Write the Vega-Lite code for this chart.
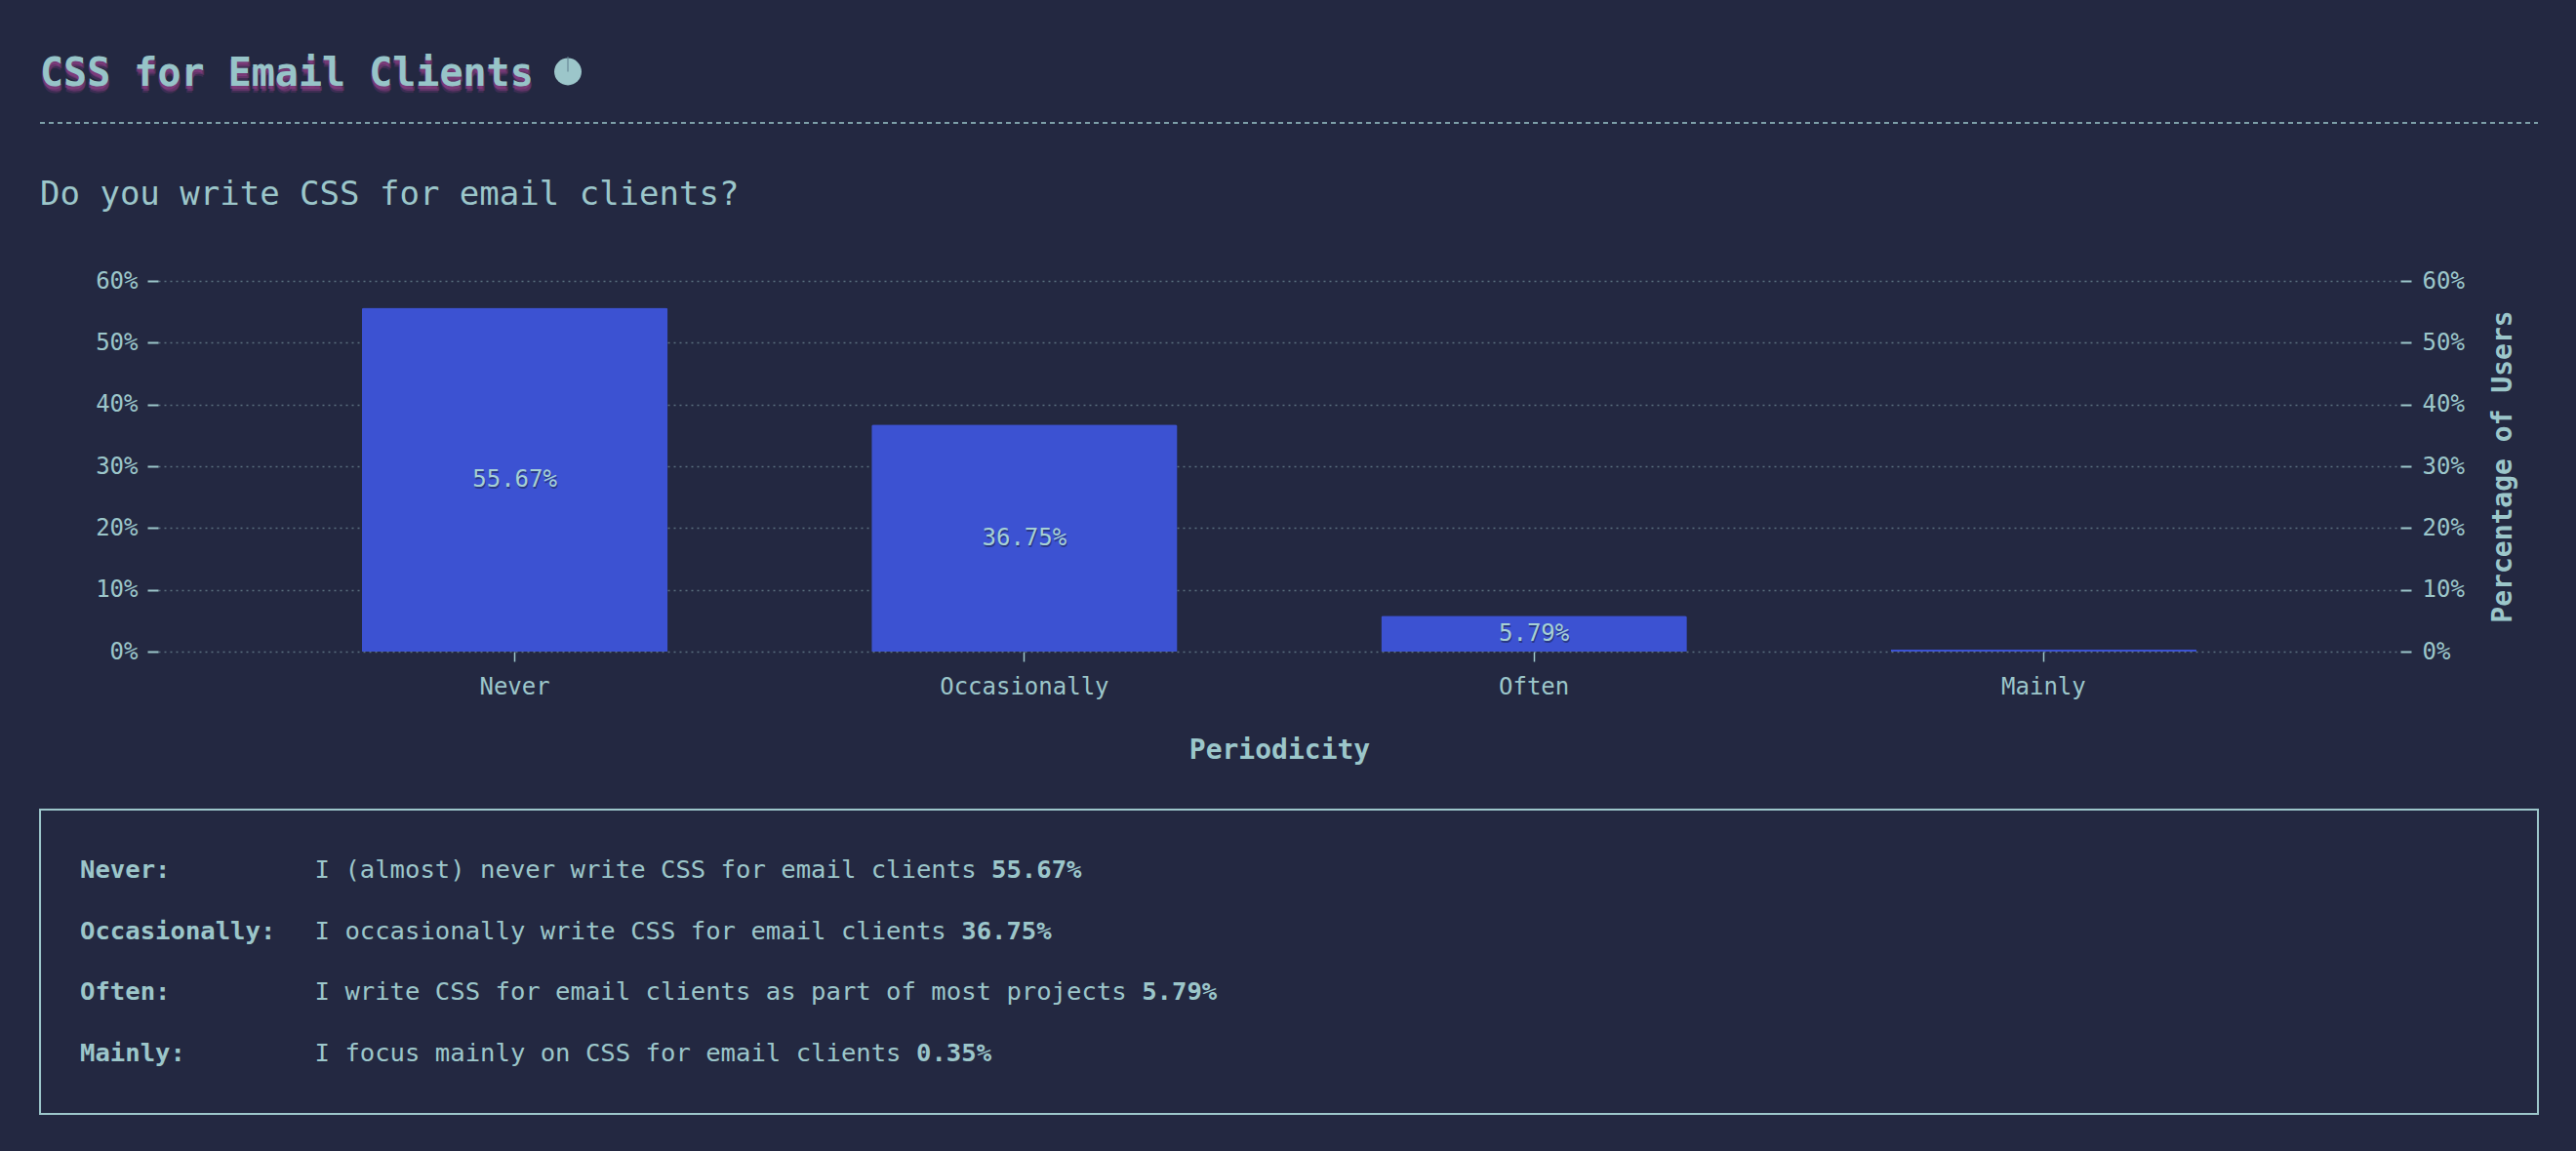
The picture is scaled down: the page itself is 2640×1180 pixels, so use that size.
{
  "$schema": "https://vega.github.io/schema/vega-lite/v6.json",
  "background": "#232841",
  "padding": {"left": 40, "top": 0, "right": 40, "bottom": 39},
  "config": {
    "font": "DejaVu Sans Mono",
    "view": {"stroke": null},
    "axis": {
      "labelFont": "DejaVu Sans Mono",
      "titleFont": "DejaVu Sans Mono",
      "labelColor": "#9cc6ca",
      "titleColor": "#9cc6ca",
      "tickColor": "#9cc6ca",
      "domain": false,
      "labelFontSize": 24,
      "titleFontSize": 28,
      "titleFontWeight": "bold"
    }
  },
  "datasets": {
    "main": [
      {"category": "Never", "value": 0.5567, "desc": "I (almost) never write CSS for email clients"},
      {"category": "Occasionally", "value": 0.3675, "desc": "I occasionally write CSS for email clients"},
      {"category": "Often", "value": 0.0579, "desc": "I write CSS for email clients as part of most projects"},
      {"category": "Mainly", "value": 0.0035, "desc": "I focus mainly on CSS for email clients"}
    ]
  },
  "spacing": 46,
  "vconcat": [
    {
      "width": 2298,
      "height": 137,
      "data": {"values": [{"t": "CSS for Email Clients"}]},
      "layer": [
        {
          "mark": {"type": "rule", "stroke": "#9cc6ca", "strokeWidth": 1.5, "strokeDash": [5, 4]},
          "encoding": {
            "x": {"datum": -121, "type": "quantitative", "scale": {"domain": [0, 2298], "nice": false, "zero": false}, "axis": null},
            "x2": {"datum": 2439},
            "y": {"datum": 126, "type": "quantitative", "scale": {"domain": [0, 137], "reverse": true, "nice": false, "zero": false}, "axis": null}
          }
        },
        {
          "mark": {"type": "text", "font": "DejaVu Sans Mono", "fontSize": 40, "fontWeight": "bold", "align": "left", "baseline": "alphabetic", "color": "#8e3f86", "opacity": 0.25, "dx": 0, "dy": 7},
          "encoding": {
            "x": {"datum": -121, "type": "quantitative"},
            "y": {"datum": 88, "type": "quantitative"},
            "text": {"field": "t"}
          }
        },
        {
          "mark": {"type": "text", "font": "DejaVu Sans Mono", "fontSize": 40, "fontWeight": "bold", "align": "left", "baseline": "alphabetic", "color": "#8e3f86", "opacity": 0.45, "dx": 1, "dy": 5},
          "encoding": {
            "x": {"datum": -121, "type": "quantitative"},
            "y": {"datum": 88, "type": "quantitative"},
            "text": {"field": "t"}
          }
        },
        {
          "mark": {"type": "text", "font": "DejaVu Sans Mono", "fontSize": 40, "fontWeight": "bold", "align": "left", "baseline": "alphabetic", "color": "#8e3f86", "opacity": 0.6, "dx": -1, "dy": 3},
          "encoding": {
            "x": {"datum": -121, "type": "quantitative"},
            "y": {"datum": 88, "type": "quantitative"},
            "text": {"field": "t"}
          }
        },
        {
          "mark": {"type": "text", "font": "DejaVu Sans Mono", "fontSize": 40, "fontWeight": "bold", "align": "left", "baseline": "alphabetic", "color": "#97c4c8"},
          "encoding": {
            "x": {"datum": -121, "type": "quantitative"},
            "y": {"datum": 88, "type": "quantitative"},
            "text": {"field": "t"}
          }
        },
        {
          "mark": {"type": "point", "shape": "circle", "filled": true, "size": 780, "color": "#9cc6ca", "opacity": 1},
          "encoding": {
            "x": {"datum": 420, "type": "quantitative"},
            "y": {"datum": 73.5, "type": "quantitative"}
          }
        },
        {
          "mark": {"type": "rule", "stroke": "#5f7f8e", "strokeWidth": 1},
          "encoding": {
            "x": {"datum": 420, "type": "quantitative"},
            "y": {"datum": 58, "type": "quantitative"},
            "y2": {"datum": 73.5}
          }
        }
      ]
    },
    {
      "width": 2298,
      "height": 380,
      "data": {"name": "main"},
      "title": {
        "text": "Do you write CSS for email clients?",
        "anchor": "start",
        "frame": "group",
        "dx": -121,
        "offset": 32,
        "baseline": "alphabetic",
        "font": "DejaVu Sans Mono",
        "fontSize": 34,
        "fontWeight": "normal",
        "color": "#9cc6ca"
      },
      "encoding": {
        "x": {
          "field": "category",
          "type": "nominal",
          "sort": null,
          "scale": {"paddingInner": 0.4, "paddingOuter": 0.4},
          "axis": {"title": "Periodicity", "labelAngle": 0, "tickSize": 10, "tickWidth": 1.5, "labelPadding": 14, "titlePadding": 39, "grid": false}
        }
      },
      "layer": [
        {
          "mark": {"type": "bar", "color": "#3c52d2", "cornerRadiusTopLeft": 2, "cornerRadiusTopRight": 2},
          "encoding": {
            "y": {
              "field": "value",
              "type": "quantitative",
              "scale": {"domain": [0, 0.6], "nice": false},
              "axis": {"orient": "left", "format": ".0%", "values": [0, 0.1, 0.2, 0.3, 0.4, 0.5, 0.6], "tickSize": 11, "tickWidth": 2, "labelPadding": 10, "title": null, "grid": true, "gridDash": [2, 4], "gridColor": "#9cc6ca", "gridOpacity": 0.45, "gridWidth": 1.5}
            }
          }
        },
        {
          "mark": {"type": "bar", "opacity": 0},
          "encoding": {
            "y": {
              "field": "value",
              "type": "quantitative",
              "scale": {"domain": [0, 0.6], "nice": false},
              "axis": {"orient": "right", "format": ".0%", "values": [0, 0.1, 0.2, 0.3, 0.4, 0.5, 0.6], "tickSize": 11, "tickWidth": 2, "labelPadding": 11, "grid": false, "title": "Percentage of Users", "titleAngle": 270, "titleBaseline": "top", "titlePadding": 26}
            }
          }
        },
        {
          "transform": [{"filter": "datum.value > 0.01"}],
          "mark": {"type": "text", "font": "DejaVu Sans Mono", "fontSize": 24, "baseline": "middle", "color": "#141a30", "opacity": 0.45, "dx": 1, "dy": 2},
          "encoding": {
            "y": {"field": "value", "type": "quantitative", "scale": {"domain": [0, 1.2], "nice": false}, "axis": null},
            "text": {"field": "value", "type": "quantitative", "format": ".2%"}
          }
        },
        {
          "transform": [{"filter": "datum.value > 0.01"}],
          "mark": {"type": "text", "font": "DejaVu Sans Mono", "fontSize": 24, "baseline": "middle", "color": "#a6d0d4"},
          "encoding": {
            "y": {"field": "value", "type": "quantitative", "scale": {"domain": [0, 1.2], "nice": false}, "axis": null},
            "text": {"field": "value", "type": "quantitative", "format": ".2%"}
          }
        }
      ],
      "resolve": {"scale": {"y": "independent"}}
    },
    {
      "width": 2298,
      "height": 312,
      "data": {"name": "main"},
      "transform": [
        {"calculate": "datum.category + ':'", "as": "lab"},
        {"calculate": "18.27 + length(datum.desc) + 1", "as": "pctx"}
      ],
      "layer": [
        {
          "data": {"values": [{"box": 1}]},
          "mark": {"type": "rect", "filled": false, "color": "#9cc6ca", "strokeWidth": 2},
          "encoding": {
            "x": {"datum": 0, "type": "quantitative", "scale": {"domain": [7.85, 156.97], "nice": false, "zero": false}, "axis": null},
            "x2": {"datum": 166.12},
            "y": {"datum": 0, "type": "quantitative", "scale": {"domain": [0, 1], "nice": false, "zero": false}, "axis": null},
            "y2": {"datum": 1}
          }
        },
        {
          "mark": {"type": "text", "font": "DejaVu Sans Mono", "fontSize": 25.6, "fontWeight": "bold", "align": "left", "baseline": "middle", "color": "#9cc6ca"},
          "encoding": {
            "x": {"datum": 2.66, "type": "quantitative"},
            "y": {"field": "category", "type": "nominal", "sort": null, "scale": {"type": "point", "padding": 1}, "axis": null},
            "text": {"field": "lab"}
          }
        },
        {
          "mark": {"type": "text", "font": "DejaVu Sans Mono", "fontSize": 25.6, "fontWeight": "normal", "align": "left", "baseline": "middle", "color": "#9cc6ca"},
          "encoding": {
            "x": {"datum": 18.27, "type": "quantitative"},
            "y": {"field": "category", "type": "nominal", "sort": null, "scale": {"type": "point", "padding": 1}, "axis": null},
            "text": {"field": "desc"}
          }
        },
        {
          "mark": {"type": "text", "font": "DejaVu Sans Mono", "fontSize": 25.6, "fontWeight": "bold", "align": "left", "baseline": "middle", "color": "#9cc6ca"},
          "encoding": {
            "x": {"field": "pctx", "type": "quantitative"},
            "y": {"field": "category", "type": "nominal", "sort": null, "scale": {"type": "point", "padding": 1}, "axis": null},
            "text": {"field": "value", "type": "quantitative", "format": ".2%"}
          }
        }
      ],
      "resolve": {"scale": {"y": "independent"}}
    }
  ]
}
